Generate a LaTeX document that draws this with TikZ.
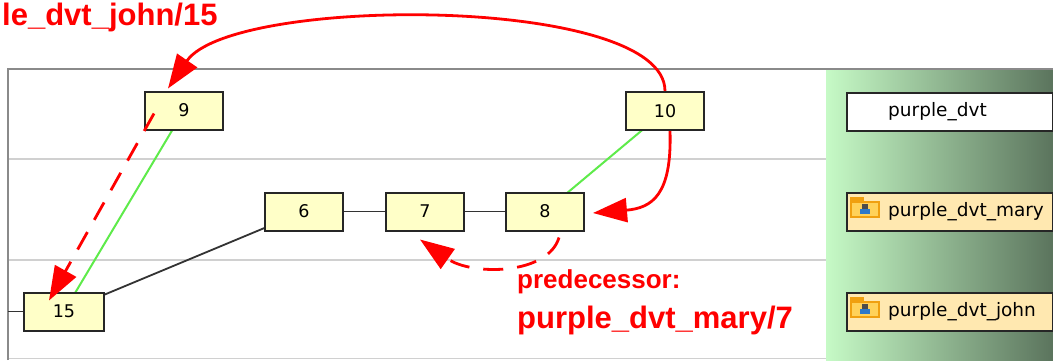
\documentclass[tikz,border=0pt]{standalone}
\usepackage{fontspec}
\setmainfont{Liberation Sans}
\newfontfamily\dvs{DejaVu Sans}
\usetikzlibrary{arrows.meta}
\definecolor{nodefill}{HTML}{FFFFC8}
\definecolor{tanfill}{HTML}{FFE8B0}
\definecolor{gleft}{HTML}{C6FAC6}
\definecolor{gright}{HTML}{5B745D}
\definecolor{lgreen}{HTML}{5EEB4A}
\definecolor{sepgray}{HTML}{D0D0D0}
\definecolor{framegray}{HTML}{8A8A8A}
\definecolor{folderor}{HTML}{F0A010}
\definecolor{folderin}{HTML}{FFD25A}
\definecolor{personblue}{HTML}{2E78C8}
\tikzset{
  nbox/.style={draw=black!85, line width=2pt, fill=nodefill, minimum width=78pt, minimum height=38pt, inner sep=0pt, font=\dvs\fontsize{17.5}{20}\selectfont},
  rbox/.style={draw=black!85, line width=2pt, minimum width=206pt, minimum height=38pt, inner sep=0pt},
  rtext/.style={anchor=west, inner sep=0pt, font=\dvs\fontsize{18.5}{22}\selectfont},
  blk/.style={draw=black!80, line width=1.8pt},
  grn/.style={draw=lgreen, line width=2pt},
  redarrow/.style={draw=red, line width=2.8pt, -{Triangle[length=34pt,width=24pt]}},
  reddash/.style={redarrow, dash pattern=on 20pt off 14pt},
  redlabel/.style={text=red, inner sep=0pt, anchor=base west, font=\bfseries\fontsize{31}{36}\selectfont},
  redsmall/.style={redlabel, font=\bfseries\fontsize{26}{30}\selectfont}
}
\newcommand{\foldericon}[2]{%
  \begin{scope}[shift={(#1,#2)}]
    \fill[folderor] (0,0) rectangle (14,5);
    \fill[folderor] (0,4) rectangle (30,21);
    \fill[folderin] (2,6) rectangle (28,19);
    \fill[black!70] (12,7) rectangle (18,12);
    \fill[personblue] (10,12) rectangle (20,17);
  \end{scope}}
\begin{document}
\begin{tikzpicture}[x=1pt,y=-1pt]
\useasboundingbox (0,0) rectangle (1053,360);
\fill[white] (0,0) rectangle (1053,360);
% right gradient panel
\shade[left color=gleft, right color=gright] (826,70) rectangle (1053,360);
% frame
\draw[sepgray, line width=1.8pt] (8,159) -- (826,159);
\draw[sepgray, line width=1.8pt] (8,260) -- (826,260);
\draw[sepgray, line width=1.8pt] (8,358.5) -- (826,358.5);
\draw[framegray, line width=2pt] (8,360) -- (8,69) -- (1053,69);
% right panel boxes
\node[rbox, fill=white, anchor=west] (r1) at (846,111.5) {};
\node[rtext] (t1) at (888,111.5) {purple\_dvt};
\node[rbox, fill=tanfill, anchor=west] (r2) at (846,211.5) {};
\foldericon{850}{197}
\node[rtext] (t2) at (888,211.5) {purple\_dvt\_mary};
\node[rbox, fill=tanfill, anchor=west] (r3) at (846,311.5) {};
\foldericon{850}{297}
\node[rtext] (t3) at (888,311.5) {purple\_dvt\_john};
% node positions (coordinates first, edges, then boxes on top)
\coordinate (p9) at (184,110.5);
\coordinate (p10) at (665,111);
\coordinate (p6) at (304,211.5);
\coordinate (p7) at (425,211.5);
\coordinate (p8) at (545,211.5);
\coordinate (p15) at (64,311.5);
\coordinate (stub) at (8,311.5);
% edges
\draw[blk] (stub) -- (p15);
\draw[blk] (p15) -- (p6);
\draw[blk] (p6) -- (p7);
\draw[blk] (p7) -- (p8);
\draw[grn] (p15) -- (p9);
\draw[grn] (p8) -- (p10);
% nodes
\node[nbox] (n9) at (p9) {9};
\node[nbox] (n10) at (p10) {10};
\node[nbox] (n6) at (p6) {6};
\node[nbox] (n7) at (p7) {7};
\node[nbox] (n8) at (p8) {8};
\node[nbox, minimum width=80pt] (n15) at (p15) {15};
% red arrows
\draw[redarrow] (n10.north) .. controls (665,-5) and (232,-5) .. ([xshift=-16pt,yshift=2pt]n9.north);
\draw[redarrow] ([xshift=5pt]n10.south) .. controls (672,195) and (652,208) .. ([xshift=8pt,yshift=-1.5pt]n8.east);
\draw[reddash] ([xshift=-30pt,yshift=-3pt]n9.center) -- ([xshift=-15pt,yshift=11pt]n15.center);
\draw[reddash] ([xshift=14pt,yshift=-26pt]n8.center) .. controls (548,275) and (472,276) .. ([xshift=-5pt,yshift=-28pt]n7.center);
% red labels
\node[redlabel] (l1) at (2,25) {le\_dvt\_john/15};
\node[redsmall] (l2) at (517,288) {predecessor:};
\node[redlabel] (l3) at (517,328) {purple\_dvt\_mary/7};
\end{tikzpicture}
\end{document}
